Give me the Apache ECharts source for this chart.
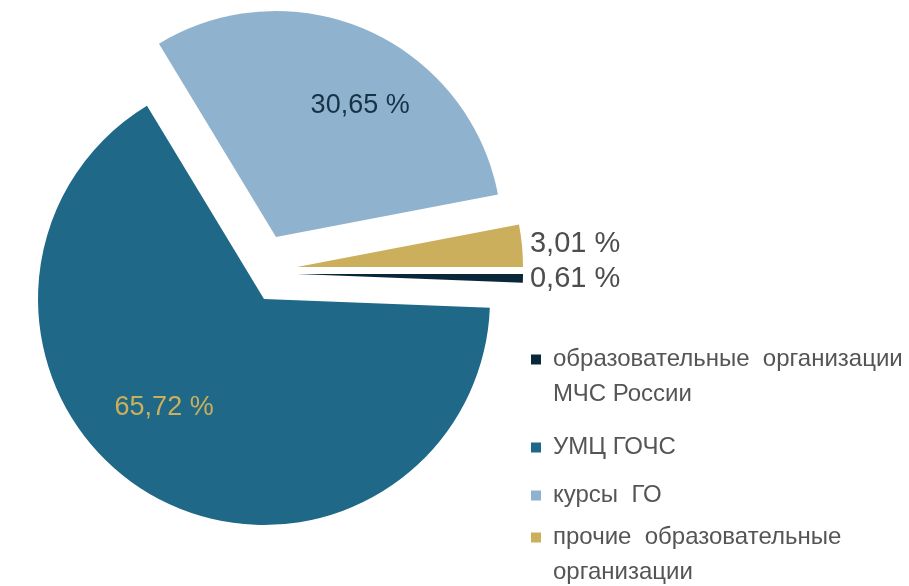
<!DOCTYPE html>
<html>
<head>
<meta charset="utf-8">
<script src="https://cdn.jsdelivr.net/npm/echarts@6/dist/echarts.min.js"></script>
<style>
  html, body { margin: 0; padding: 0; background: #fff; }
  #chart { width: 909px; height: 586px; }
</style>
</head>
<body>
<div id="chart"></div>
<script>
const names = [
  "образовательные организации МЧС России",
  "УМЦ ГОЧС",
  "курсы ГО",
  "прочие образовательные организации",
];
const values = [0.61, 65.72, 30.65, 3.01];

// legend text as it is broken in the picture
const legendText = {
  "образовательные организации МЧС России": "образовательные  организации\nМЧС России",
  "УМЦ ГОЧС": "УМЦ ГОЧС",
  "курсы ГО": "курсы  ГО",
  "прочие образовательные организации": "прочие  образовательные\nорганизации",
};

const colors = ["#08283a", "#1f6888", "#8fb2ce", "#cbaf5c"];
const labelColors = ["#4d4d4d", "#cbaf5c", "#163246", "#4d4d4d"];
const labelInside = [false, true, true, false];

// every slice is pulled out by its own amount, so each gets its own centre
const centers = [[297, 274], [264, 299], [276, 237], [297, 267]];
const labelShift = [[2, 1], [-41, 9], [37, -25], [3, -2]];
// one legend per entry so the square sits on the first text line
const legendTop = [307, 430, 478, 485];

const fmt = (v) => v.toFixed(2).replace(".", ",") + " %";
const font = "Liberation Sans, Arial, sans-serif";

const series = names.map((_, i) => ({
  type: "pie",
  center: centers[i],
  radius: 226,
  startAngle: 0,
  clockwise: true,
  avoidLabelOverlap: false,
  silent: true,
  animation: false,
  labelLine: { show: false, length: 0, length2: 0 },
  labelLayout: () => ({ dx: labelShift[i][0], dy: labelShift[i][1] }),
  data: values.map((v, j) => ({
    name: names[j],
    value: v,
    itemStyle: { color: j === i ? colors[j] : "transparent" },
    label: {
      show: j === i,
      position: labelInside[j] ? "inside" : "outside",
      formatter: (p) => fmt(p.value),
      color: labelColors[j],
      fontFamily: font,
      fontSize: labelInside[j] ? 27 : 29,
    },
  })),
}));

const legends = names.map((n, i) => {
  let txt = legendText[n];
  // an empty line on top keeps the first line level with the square
  if (txt.indexOf("\n") >= 0) txt = "\n" + txt;
  return {
    orient: "vertical",
    left: 531,
    top: legendTop[i],
    padding: 0,
    icon: "rect",
    itemWidth: 10,
    itemHeight: 10,
    selectedMode: false,
    data: [{ name: n, itemStyle: { color: colors[i] } }],
    formatter: () => txt,
    textStyle: {
      color: "#555",
      fontFamily: font,
      fontSize: 24,
      lineHeight: 35,
      padding: [0, 0, 0, 7],
    },
  };
});

const chart = echarts.init(document.getElementById("chart"));
chart.setOption({
  backgroundColor: "#fff",
  legend: legends,
  series: series,
});
</script>
</body>
</html>
